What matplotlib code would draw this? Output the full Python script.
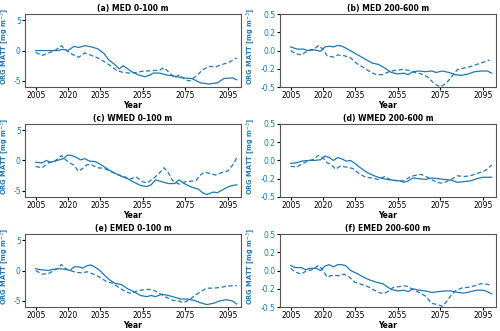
import matplotlib
matplotlib.use("Agg")
import matplotlib.pyplot as plt

plt.rcParams["axes.unicode_minus"] = False

LINE_COLOR = "#1f77b4"

# (a) MED 0-100 m
a_solid_years = [2005, 2008, 2011, 2015, 2018, 2020, 2023, 2025, 2028, 2031, 2034, 2037, 2039, 2042, 2044,
                 2046, 2048, 2050, 2053, 2056, 2058, 2060, 2063, 2066, 2070, 2074, 2078, 2082, 2086, 2090,
                 2093, 2097, 2099]
a_solid = [0.0, 0.0, 0.0, 0.0, 0.2, 0.0, 0.7, 0.5, 0.8, 0.6, 0.3, -0.5, -1.5, -2.3, -3.0,
           -2.5, -3.0, -3.5, -4.0, -4.3, -4.1, -3.7, -3.7, -4.0, -4.2, -4.5, -4.6, -5.3, -5.5, -5.3,
           -4.6, -4.5, -4.8]
a_dash_years = [2005, 2008, 2011, 2014, 2017, 2019, 2022, 2025, 2028, 2031, 2034, 2037, 2040, 2043, 2046,
                2049, 2052, 2055, 2060, 2063, 2065, 2068, 2070, 2072, 2075, 2077, 2080, 2083, 2086, 2089,
                2092, 2095, 2099]
a_dash = [-0.3, -0.8, -0.4, 0.0, 0.8, 0.1, -0.6, -1.1, -0.4, -0.8, -1.2, -1.8, -2.5, -3.3, -3.6,
          -3.7, -3.6, -3.4, -3.3, -3.2, -2.8, -3.8, -4.5, -4.0, -4.8, -5.0, -4.2, -3.2, -2.6, -2.7,
          -2.3, -2.0, -1.2]

# (b) MED 200-600 m
b_solid_years = [2005, 2008, 2011, 2013, 2016, 2019, 2021, 2023, 2025, 2027, 2029, 2031, 2034, 2037, 2040,
                 2043, 2046, 2049, 2052, 2055, 2058, 2060, 2062, 2065, 2068, 2071, 2073, 2076, 2079, 2082,
                 2085, 2088, 2091, 2094, 2097, 2099]
b_solid = [0.05, 0.02, 0.02, 0.0, 0.01, -0.01, 0.05, 0.06, 0.05, 0.07, 0.06, 0.03, -0.02, -0.07, -0.12,
           -0.17, -0.19, -0.24, -0.30, -0.32, -0.31, -0.33, -0.29, -0.28, -0.29, -0.28, -0.30, -0.28, -0.30, -0.33,
           -0.34, -0.32, -0.29, -0.28, -0.28, -0.31]
b_dash_years = [2005, 2007, 2010, 2013, 2016, 2018, 2020, 2022, 2025, 2027, 2030, 2033, 2036, 2039, 2042,
                2045, 2048, 2051, 2054, 2057, 2060, 2063, 2066, 2069, 2072, 2075, 2078, 2081, 2083, 2086,
                2089, 2092, 2095, 2098]
b_dash = [0.0, -0.04, -0.06, 0.0, 0.02, 0.07, 0.02, -0.07, -0.09, -0.06, -0.07, -0.10, -0.18, -0.23, -0.29,
          -0.33, -0.33, -0.29, -0.27, -0.26, -0.27, -0.30, -0.32, -0.36, -0.45, -0.50, -0.44, -0.33, -0.26, -0.24,
          -0.22, -0.19, -0.16, -0.13]

# (c) WMED 0-100 m
c_solid_years = [2005, 2008, 2010, 2012, 2015, 2018, 2020, 2022, 2024, 2026, 2028, 2030, 2033, 2036, 2039,
                 2042, 2045, 2048, 2051, 2054, 2057, 2059, 2061, 2064, 2067, 2070, 2072, 2075, 2078, 2081,
                 2083, 2085, 2088, 2090, 2093, 2096, 2099]
c_solid = [-0.3, -0.4, 0.0, -0.3, 0.0, 0.3, 0.9, 0.8, 0.5, 0.1, 0.3, -0.1, -0.2, -0.8, -1.5,
           -2.1, -2.6, -3.0, -3.6, -4.1, -4.3, -4.0, -3.2, -3.5, -3.8, -3.8, -3.2, -3.9, -4.4, -4.7,
           -5.3, -5.6, -5.2, -5.3, -4.7, -4.2, -4.0]
c_dash_years = [2005, 2008, 2011, 2014, 2017, 2019, 2021, 2023, 2025, 2027, 2029, 2031, 2034, 2037, 2040,
                2043, 2046, 2049, 2052, 2055, 2057, 2060, 2063, 2065, 2067, 2069, 2072, 2075, 2078, 2080,
                2082, 2084, 2087, 2089, 2092, 2095, 2097, 2099]
c_dash = [-1.0, -1.2, -0.4, -0.1, 0.8, 0.1, -0.4, -0.8, -1.8, -1.3, -0.7, -0.7, -1.2, -1.3, -1.8,
          -2.3, -2.6, -3.1, -2.7, -3.5, -3.7, -3.0, -2.0, -1.2, -2.0, -3.3, -3.9, -3.5, -3.4, -3.3,
          -2.4, -1.9, -2.2, -2.4, -2.0, -1.7, -0.8, 0.4]

# (d) WMED 200-600 m
d_solid_years = [2005, 2008, 2010, 2013, 2016, 2019, 2021, 2023, 2025, 2027, 2029, 2031, 2033, 2035, 2038,
                 2041, 2044, 2047, 2050, 2053, 2056, 2058, 2060, 2062, 2065, 2068, 2071, 2074, 2077, 2080,
                 2083, 2086, 2089, 2092, 2095, 2099]
d_solid = [-0.04, -0.03, -0.01, 0.0, 0.0, 0.01, 0.06, 0.04, 0.0, 0.04, 0.02, -0.01, 0.0, -0.04, -0.11,
           -0.17, -0.21, -0.24, -0.26, -0.27, -0.28, -0.30, -0.28, -0.24, -0.25, -0.26, -0.24, -0.25, -0.26, -0.27,
           -0.30, -0.29, -0.28, -0.25, -0.23, -0.23]
d_dash_years = [2005, 2008, 2010, 2013, 2016, 2018, 2020, 2022, 2024, 2026, 2028, 2031, 2034, 2037, 2040,
                2043, 2046, 2049, 2052, 2055, 2058, 2061, 2064, 2066, 2069, 2072, 2075, 2077, 2080, 2083,
                2086, 2089, 2092, 2095, 2097, 2099]
d_dash = [-0.08, -0.09, -0.05, -0.01, 0.02, 0.07, 0.04, -0.03, -0.06, -0.12, -0.08, -0.09, -0.11, -0.18, -0.23,
          -0.24, -0.26, -0.22, -0.27, -0.28, -0.28, -0.22, -0.20, -0.19, -0.23, -0.28, -0.31, -0.30, -0.26, -0.21,
          -0.22, -0.21, -0.18, -0.15, -0.12, -0.06]

# (e) EMED 0-100 m
e_solid_years = [2005, 2008, 2011, 2013, 2016, 2019, 2021, 2023, 2025, 2027, 2029, 2031, 2033, 2035, 2037,
                 2039, 2042, 2045, 2048, 2051, 2054, 2057, 2059, 2061, 2064, 2067, 2070, 2073, 2076, 2079,
                 2082, 2085, 2088, 2091, 2094, 2097, 2099]
e_solid = [0.3, 0.1, 0.0, 0.2, 0.3, 0.2, 0.0, 0.6, 0.6, 0.4, 0.8, 0.9, 0.5, 0.0, -0.7,
           -1.4, -2.1, -2.3, -3.0, -3.5, -4.1, -4.3, -4.1, -4.3, -3.9, -4.1, -4.4, -4.7, -4.7, -4.9,
           -5.3, -5.6, -5.4, -5.0, -4.8, -5.0, -5.5]
e_dash_years = [2005, 2008, 2011, 2014, 2016, 2017, 2019, 2021, 2024, 2027, 2029, 2032, 2035, 2038, 2041,
                2044, 2047, 2050, 2052, 2055, 2058, 2060, 2063, 2066, 2069, 2072, 2074, 2077, 2079, 2082,
                2085, 2088, 2091, 2094, 2097, 2099]
e_dash = [0.0, -0.6, -0.5, 0.1, 0.5, 1.0, 0.3, 0.0, -0.3, -0.4, -0.2, -0.6, -1.1, -1.8, -2.1,
          -2.8, -3.5, -3.8, -3.4, -3.2, -3.1, -3.2, -3.8, -4.4, -4.9, -5.0, -5.3, -4.8, -4.2, -3.5,
          -2.9, -2.9, -2.8, -2.6, -2.5, -2.5]

# (f) EMED 200-600 m
f_solid_years = [2005, 2007, 2010, 2012, 2014, 2017, 2019, 2021, 2023, 2025, 2027, 2029, 2031, 2033, 2036,
                 2039, 2042, 2045, 2048, 2050, 2052, 2055, 2058, 2060, 2062, 2065, 2068, 2071, 2074, 2077,
                 2080, 2083, 2086, 2089, 2092, 2095, 2097, 2099]
f_solid = [0.07, 0.04, 0.04, 0.01, 0.03, 0.03, 0.0, 0.06, 0.08, 0.05, 0.08, 0.08, 0.06, 0.0, -0.04,
           -0.09, -0.13, -0.16, -0.18, -0.22, -0.26, -0.28, -0.27, -0.29, -0.25, -0.27, -0.28, -0.30, -0.29, -0.28,
           -0.28, -0.30, -0.31, -0.29, -0.27, -0.27, -0.29, -0.32]
f_dash_years = [2005, 2007, 2010, 2012, 2015, 2018, 2020, 2022, 2024, 2026, 2028, 2030, 2032, 2035, 2038,
                2041, 2044, 2047, 2049, 2051, 2053, 2056, 2058, 2060, 2062, 2065, 2068, 2071, 2074, 2076,
                2078, 2080, 2082, 2085, 2088, 2091, 2094, 2097, 2099]
f_dash = [0.03, -0.02, -0.05, -0.01, 0.01, 0.07, 0.01, -0.09, -0.07, -0.07, -0.07, -0.05, -0.08, -0.16, -0.19,
          -0.22, -0.27, -0.31, -0.31, -0.28, -0.23, -0.22, -0.21, -0.22, -0.26, -0.30, -0.35, -0.45, -0.47, -0.49,
          -0.42, -0.34, -0.28, -0.24, -0.23, -0.21, -0.18, -0.19, -0.20]

titles = ["(a) MED 0-100 m", "(b) MED 200-600 m", "(c) WMED 0-100 m",
          "(d) WMED 200-600 m", "(e) EMED 0-100 m", "(f) EMED 200-600 m"]
x_ticks = [2005, 2020, 2035, 2055, 2075, 2095]
surface_ticks = [-5, 0, 5]
deep_ticks = [-0.5, -0.25, 0.0, 0.25, 0.5]

panels = [
    (a_solid_years, a_solid, a_dash_years, a_dash),
    (b_solid_years, b_solid, b_dash_years, b_dash),
    (c_solid_years, c_solid, c_dash_years, c_dash),
    (d_solid_years, d_solid, d_dash_years, d_dash),
    (e_solid_years, e_solid, e_dash_years, e_dash),
    (f_solid_years, f_solid, f_dash_years, f_dash),
]

fig = plt.figure(figsize=(5.0, 3.31), dpi=100)

lefts = [0.05, 0.56]
bottoms = [0.737, 0.405, 0.0725]
width = 0.432
height = 0.2205

for i, (sx, sy, dx, dy) in enumerate(panels):
    row, col = divmod(i, 2)
    ax = fig.add_axes([lefts[col], bottoms[row], width, height])
    ax.plot(sx, sy, color=LINE_COLOR, linewidth=0.9)
    ax.plot(dx, dy, color=LINE_COLOR, linewidth=0.9, linestyle=(0, (3.5, 2)))

    ax.set_xlim(2000, 2101)
    ax.set_xticks(x_ticks)
    if col == 0:
        ax.set_ylim(-6, 6)
        ax.set_yticks(surface_ticks)
        label_x = -0.06
    else:
        ax.set_ylim(-0.5, 0.5)
        ax.set_yticks(deep_ticks)
        ax.set_yticklabels([f"{t:.1f}" for t in deep_ticks])
        label_x = -0.1

    ax.set_title(titles[i], fontsize=5.5, fontweight="bold", pad=2)
    ax.set_xlabel("Year", fontsize=5.5, fontweight="bold", labelpad=0.5)
    ax.set_ylabel("ORG MATT [mg m$^{-3}$]", fontsize=4.8, fontweight="bold",
                  color=LINE_COLOR)
    ax.yaxis.set_label_coords(label_x, 0.56)
    ax.tick_params(axis="x", labelsize=5.5, length=2, pad=1)
    ax.tick_params(axis="y", labelsize=5.5, length=2, pad=1, labelcolor=LINE_COLOR)
    for spine in ax.spines.values():
        spine.set_color("#555555")
        spine.set_linewidth(0.8)

fig.savefig("out.png", dpi=100)
